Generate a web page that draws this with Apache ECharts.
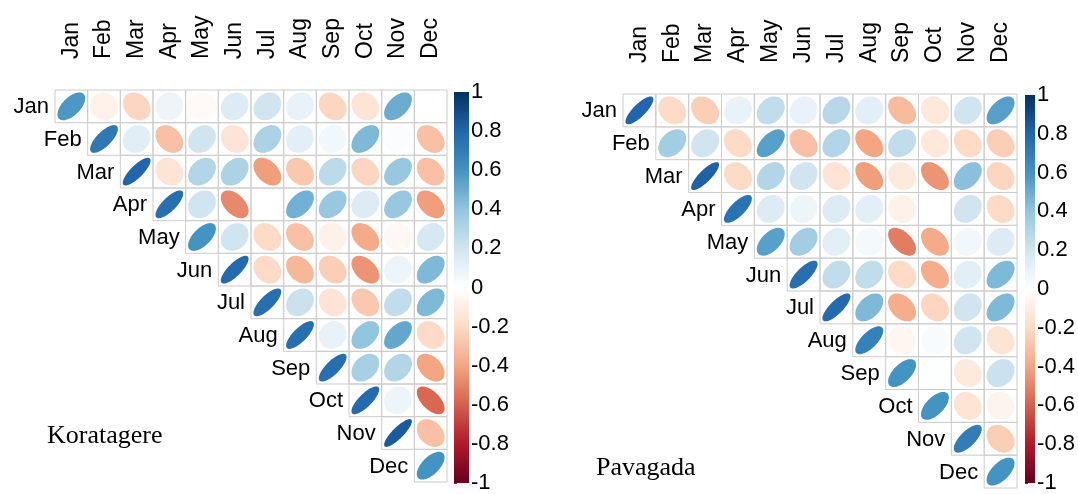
<!DOCTYPE html>
<html>
<head>
<meta charset="utf-8">
<script src="https://cdn.jsdelivr.net/npm/echarts@6/dist/echarts.min.js"></script>
<style>
html,body{margin:0;padding:0;background:#fff;}
#chart{width:1078px;height:494px;}
</style>
</head>
<body>
<div id="chart"></div>
<script>
// ---- data ----
const months = ['Jan','Feb','Mar','Apr','May','Jun','Jul','Aug','Sep','Oct','Nov','Dec'];
const colorTicks = [-1,-0.8,-0.6,-0.4,-0.2,0,0.2,0.4,0.6,0.8,1];
const rdbu = ['#67001F','#B2182B','#D6604D','#F4A582','#FDDBC7','#FFFFFF','#D1E5F0','#92C5DE','#4393C3','#2166AC','#053061'];

// upper-triangle rows: row i holds values for columns i..Dec
const koratagere = [
  [0.58,-0.07,-0.22, 0.08,-0.03, 0.15, 0.20, 0.10,-0.22,-0.15, 0.50, 0.00],
  [0.72, 0.13,-0.30, 0.20,-0.15, 0.32, 0.12, 0.06, 0.45, 0.02,-0.30],
  [0.80,-0.15, 0.30, 0.32,-0.42,-0.27, 0.27,-0.22, 0.38,-0.30],
  [0.76, 0.20,-0.48, 0.00, 0.48, 0.38, 0.15, 0.38,-0.42],
  [0.60, 0.20,-0.20,-0.30,-0.08,-0.38,-0.04, 0.18],
  [0.78,-0.20,-0.33,-0.25,-0.45, 0.08, 0.45],
  [0.76, 0.22,-0.15,-0.27, 0.25, 0.45],
  [0.76, 0.10, 0.40, 0.52,-0.20],
  [0.76, 0.33, 0.30,-0.40],
  [0.78, 0.08,-0.58],
  [0.84,-0.30],
  [0.60]
];
const pavagada = [
  [0.80,-0.20,-0.25, 0.10, 0.25, 0.10, 0.28, 0.12,-0.32,-0.13, 0.20, 0.55],
  [0.35, 0.20,-0.20, 0.55,-0.30, 0.30,-0.40, 0.25,-0.13,-0.20,-0.25],
  [0.82,-0.20, 0.30, 0.20,-0.15,-0.42,-0.12,-0.45, 0.42,-0.22],
  [0.74, 0.15, 0.08, 0.15, 0.12,-0.08, 0.00, 0.20,-0.20],
  [0.55, 0.35, 0.12, 0.05,-0.52,-0.38, 0.06, 0.15],
  [0.76, 0.25, 0.25,-0.20,-0.37, 0.12, 0.45],
  [0.78, 0.45,-0.37,-0.22, 0.20, 0.45],
  [0.68,-0.05, 0.03, 0.20,-0.15],
  [0.60, 0.01,-0.12, 0.22],
  [0.60,-0.15,-0.06],
  [0.70,-0.25],
  [0.60]
];

// ---- build ----
function toCells(rows) {
  const out = [];
  rows.forEach((row, i) => row.forEach((v, k) => out.push([i + k, i, v])));
  return out;
}
const FONT = 'Liberation Sans, Arial, sans-serif';

function renderCell(params, api) {
  const col = api.value(0), row = api.value(1), r = api.value(2);
  const c = api.coord([col, row]);
  const s = api.size([1, 1]);
  const w = s[0], h = s[1];
  const a = Math.acos(Math.max(-1, Math.min(1, r)));
  const pts = [];
  const N = 99;
  for (let k = 0; k < N; k++) {
    const t = 2 * Math.PI * k / (N - 1);
    const ex = 0.85 * Math.cos(t + a / 2) / 2;
    const ey = 0.85 * Math.cos(t - a / 2) / 2;
    pts.push([c[0] + ex * w, c[1] - ey * h]);
  }
  const children = [
    {type: 'rect', shape: {x: c[0] - w / 2, y: c[1] - h / 2, width: w, height: h},
     style: {fill: 'none', stroke: '#cccccc', lineWidth: 1}},
    {type: 'polygon', shape: {points: pts}, style: {fill: api.visual('color')}}
  ];
  if (col === row) {
    children.push({type: 'text', style: {
      text: months[row], x: c[0] - w / 2 - 6, y: c[1] + 1,
      align: 'right', verticalAlign: 'middle',
      textAlign: 'right', textVerticalAlign: 'middle',
      fontSize: 22, fontFamily: FONT, fill: '#000'
    }});
  }
  return {type: 'group', children};
}

function renderBar(params, api) {
  const p1 = api.coord([0, 1]);
  const p2 = api.coord([1, -1]);
  const stops = rdbu.slice().reverse().map((c, i) => ({offset: i / (rdbu.length - 1), color: c}));
  return {type: 'rect', shape: {x: p1[0], y: p1[1], width: p2[0] - p1[0], height: p2[1] - p1[1]},
          style: {fill: new echarts.graphic.LinearGradient(0, 0, 0, 1, stops)}};
}

function matrixX(gi) {
  return {type: 'category', data: months, gridIndex: gi, position: 'top',
    axisLine: {show: false}, axisTick: {show: false}, splitLine: {show: false},
    axisLabel: {rotate: -90, margin: 31, interval: 0, fontSize: 23, fontFamily: FONT, color: '#000'}};
}
function matrixY(gi) {
  return {type: 'category', data: months, gridIndex: gi, inverse: true, show: false};
}
function barX(gi) { return {type: 'value', gridIndex: gi, min: 0, max: 1, show: false}; }
function barY(gi) {
  return {type: 'value', gridIndex: gi, min: colorTicks[0], max: colorTicks[colorTicks.length - 1], interval: 0.2,
    position: 'right', splitLine: {show: false}, axisLine: {show: false},
    axisTick: {show: true, length: 3, lineStyle: {color: '#444'}},
    axisLabel: {margin: 2, fontSize: 22, fontFamily: FONT, color: '#000'}};
}

const chart = echarts.init(document.getElementById('chart'), null, {renderer: 'canvas'});
chart.setOption({
  animation: false,
  backgroundColor: '#fff',
  title: [
    {text: 'Koratagere', left: 47, top: 423, padding: 0,
     textStyle: {fontFamily: 'Liberation Serif, Times New Roman, serif', fontSize: 26, fontWeight: 'normal', color: '#000'}},
    {text: 'Pavagada', left: 596, top: 455, padding: 0,
     textStyle: {fontFamily: 'Liberation Serif, Times New Roman, serif', fontSize: 26, fontWeight: 'normal', color: '#000'}}
  ],
  grid: [
    {left: 55, top: 90, width: 392, height: 392},
    {left: 623, top: 94, width: 394, height: 394},
    {left: 454, top: 92, width: 15, height: 391},
    {left: 1025, top: 95, width: 15, height: 395}
  ],
  xAxis: [matrixX(0), matrixX(1), barX(2), barX(3)],
  yAxis: [matrixY(0), matrixY(1), barY(2), barY(3)],
  visualMap: {type: 'continuous', show: false, min: -1, max: 1, dimension: 2, seriesIndex: [0, 1],
    inRange: {color: rdbu}},
  series: [
    {type: 'custom', xAxisIndex: 0, yAxisIndex: 0, data: toCells(koratagere), renderItem: renderCell, clip: false},
    {type: 'custom', xAxisIndex: 1, yAxisIndex: 1, data: toCells(pavagada), renderItem: renderCell, clip: false},
    {type: 'custom', xAxisIndex: 2, yAxisIndex: 2, data: [[0, 0]], renderItem: renderBar, clip: false},
    {type: 'custom', xAxisIndex: 3, yAxisIndex: 3, data: [[0, 0]], renderItem: renderBar, clip: false}
  ]
});
</script>
</body>
</html>
